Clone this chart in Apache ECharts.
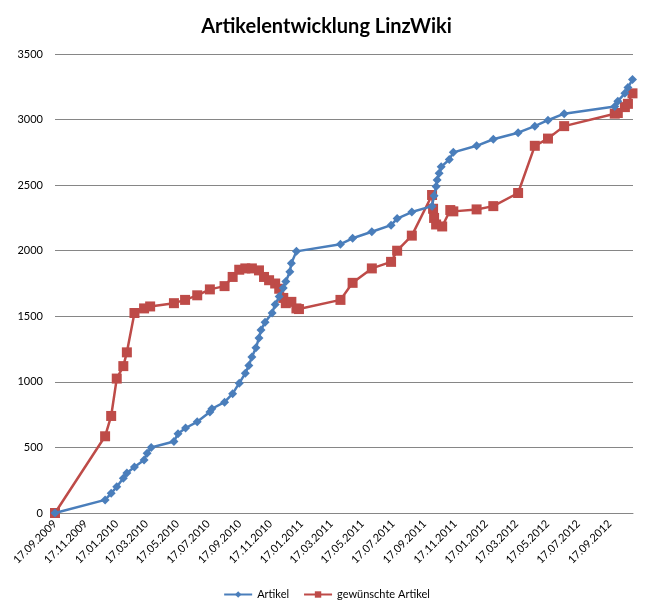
<!DOCTYPE html>
<html>
<head>
<meta charset="utf-8">
<script src="https://cdn.jsdelivr.net/npm/echarts@6/dist/echarts.min.js"></script>
<style>
html,body{margin:0;padding:0;background:#fff;}
#chart{width:653px;height:609px;}
</style>
</head>
<body>
<div id="chart"></div>
<script>
var titleText = 'Artikelentwicklung LinzWiki';
var seriesNames = ['Artikel', 'gewünschte Artikel'];

var tickLabels = ['17.09.2009','17.11.2009','17.01.2010','17.03.2010','17.05.2010','17.07.2010',
  '17.09.2010','17.11.2010','17.01.2011','17.03.2011','17.05.2011','17.07.2011','17.09.2011',
  '17.11.2011','17.01.2012','17.03.2012','17.05.2012','17.07.2012','17.09.2012'];

var artikelDates = ['2009-09-17','2009-12-25','2010-01-06','2010-01-17','2010-01-30','2010-02-06',
  '2010-02-21','2010-03-12','2010-03-18','2010-03-26','2010-05-10','2010-05-18','2010-06-02',
  '2010-06-25','2010-07-20','2010-07-24','2010-08-18','2010-09-03','2010-09-16','2010-09-28',
  '2010-10-05','2010-10-11','2010-10-19','2010-10-25','2010-10-29','2010-11-06','2010-11-20',
  '2010-11-26','2010-12-04','2010-12-12','2010-12-17','2010-12-25','2010-12-28','2011-01-07',
  '2011-04-04','2011-04-28','2011-06-05','2011-07-13','2011-07-25','2011-08-23','2011-10-02',
  '2011-10-06','2011-10-10','2011-10-12','2011-10-16','2011-10-20','2011-11-05','2011-11-13',
  '2011-12-29','2012-01-31','2012-03-20','2012-04-22','2012-05-18','2012-06-19','2012-09-27',
  '2012-10-03','2012-10-17','2012-10-23','2012-11-01'];
var artikelValues = [0,100,150,200,265,305,
  350,405,455,500,545,605,648,
  695,770,795,845,910,990,1065,
  1125,1190,1260,1335,1395,1455,1525,
  1590,1650,1715,1765,1840,1905,1995,
  2050,2095,2145,2195,2245,2295,2340,
  2420,2490,2540,2590,2640,2695,2750,
  2800,2850,2900,2950,2995,3045,3100,
  3140,3200,3245,3305];

var gewDates = ['2009-09-17','2009-12-25','2010-01-06','2010-01-17','2010-01-30','2010-02-06',
  '2010-02-21','2010-03-12','2010-03-24','2010-05-10','2010-06-01','2010-06-25','2010-07-20',
  '2010-08-18','2010-09-03','2010-09-16','2010-09-28','2010-10-11','2010-10-25','2010-11-04',
  '2010-11-14','2010-11-26','2010-12-04','2010-12-12','2010-12-17','2010-12-28','2011-01-07',
  '2011-01-12','2011-04-04','2011-04-28','2011-06-05','2011-07-13','2011-07-25','2011-08-23',
  '2011-10-02','2011-10-04','2011-10-06','2011-10-10','2011-10-22','2011-11-07','2011-11-13',
  '2011-12-29','2012-01-31','2012-03-20','2012-04-22','2012-05-18','2012-06-19','2012-09-27',
  '2012-10-03','2012-10-17','2012-10-23','2012-11-01'];
var gewValues = [0,585,740,1025,1120,1225,
  1525,1560,1575,1600,1625,1660,1705,
  1730,1800,1855,1865,1865,1850,1800,
  1775,1750,1710,1640,1600,1610,1560,
  1555,1625,1755,1865,1915,2000,2115,
  2425,2320,2250,2200,2185,2310,2300,
  2315,2340,2440,2800,2855,2950,3045,
  3050,3095,3120,3200];

var yMin = 0, yMax = 3500, yStep = 500;
var xMinDate = '2009-09-17', xMaxDate = '2012-11-02';

function toTs(s) {
  var p = s.split('-');
  return Date.UTC(+p[0], +p[1] - 1, +p[2]);
}
function labelToTs(s) {
  var p = s.split('.');
  return Date.UTC(+p[2], +p[1] - 1, +p[0]);
}
function fmt(ts) {
  var d = new Date(ts);
  var dd = ('0' + d.getUTCDate()).slice(-2);
  var mm = ('0' + (d.getUTCMonth() + 1)).slice(-2);
  return dd + '.' + mm + '.' + d.getUTCFullYear();
}
function pairs(dates, vals) {
  return dates.map(function (d, i) { return [toTs(d), vals[i]]; });
}

var tickValues = tickLabels.map(labelToTs);
var FONT = 'Lato, "Open Sans", sans-serif';

var chart = echarts.init(document.getElementById('chart'), null, {renderer: 'canvas'});
chart.setOption({
  animation: false,
  backgroundColor: '#ffffff',
  title: {
    text: titleText,
    left: 'center',
    top: 12,
    textStyle: {fontFamily: FONT, fontSize: 20, fontWeight: 'bold', color: '#000'}
  },
  legend: {
    bottom: 4,
    left: 'center',
    itemWidth: 28,
    itemHeight: 8,
    itemGap: 14,
    textStyle: {fontFamily: FONT, fontSize: 11, color: '#000'},
    data: seriesNames
  },
  grid: {left: 55, right: 20, top: 54, bottom: 96, containLabel: false},
  xAxis: {
    type: 'value',
    min: toTs(xMinDate),
    max: toTs(xMaxDate),
    axisLine: {show: true, lineStyle: {color: '#868686', width: 1}},
    axisTick: {show: false},
    splitLine: {show: false},
    axisLabel: {
      customValues: tickValues,
      rotate: 45,
      margin: 9,
      fontFamily: FONT,
      fontSize: 11,
      color: '#000',
      formatter: function (v) { return fmt(v); }
    }
  },
  yAxis: {
    type: 'value',
    min: yMin,
    max: yMax,
    interval: yStep,
    axisLine: {show: false},
    axisTick: {show: false},
    splitLine: {show: true, lineStyle: {color: '#868686', width: 1}},
    axisLabel: {
      fontFamily: FONT, fontSize: 11, color: '#000', margin: 12,
      formatter: function (v) { return String(v); }
    }
  },
  series: [
    {
      name: seriesNames[0],
      type: 'line',
      data: pairs(artikelDates, artikelValues),
      symbol: 'diamond',
      symbolSize: 9,
      z: 3,
      lineStyle: {color: '#4A7EBB', width: 2.5},
      itemStyle: {color: '#4A7EBB'}
    },
    {
      name: seriesNames[1],
      type: 'line',
      data: pairs(gewDates, gewValues),
      symbol: 'rect',
      symbolSize: 10,
      z: 2,
      lineStyle: {color: '#BE4B48', width: 2.5},
      itemStyle: {color: '#BE4B48'}
    }
  ]
});
</script>
</body>
</html>
